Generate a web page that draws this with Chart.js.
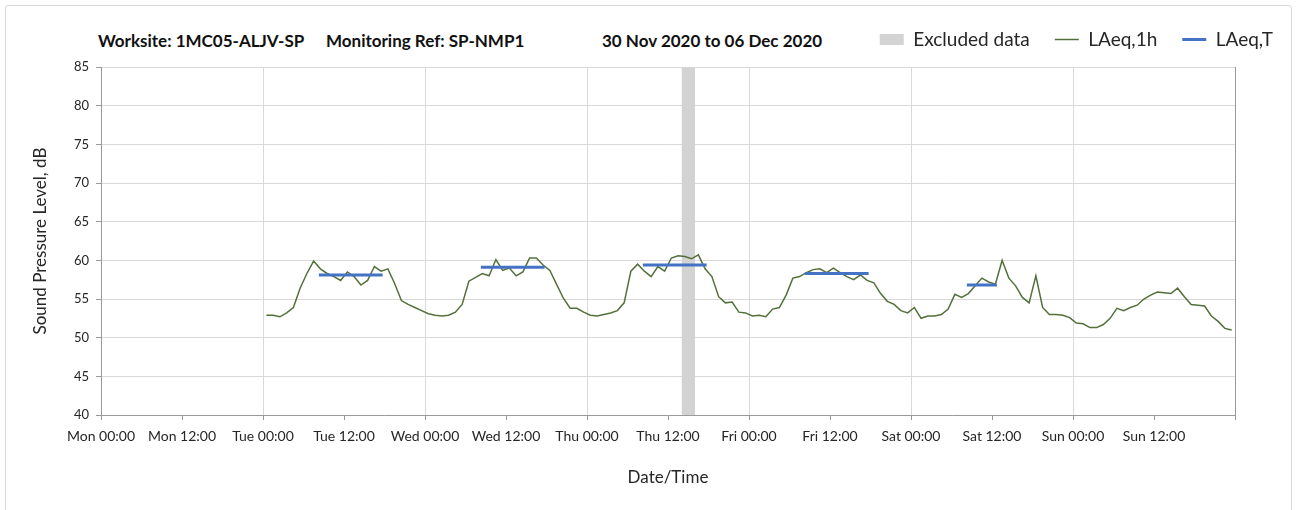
<!DOCTYPE html>
<html>
<head>
<meta charset="utf-8">
<script src="https://cdn.jsdelivr.net/npm/chart.js@4.4.1/dist/chart.umd.min.js"></script>
<style>
  html, body { margin: 0; padding: 0; background: #fff; }
  #wrap { position: relative; width: 1301px; height: 510px; overflow: hidden; }
  #frame { position: absolute; left: 5px; top: 5px; width: 1285px; height: 540px; border: 1px solid #d9d9d9; border-radius: 3px; }
  .ttl { position: absolute; top: 30px; line-height: 20px; font: bold 17px Lato, sans-serif; color: #111; white-space: pre; }
  canvas { position: absolute; left: 0; top: 0; }
</style>
</head>
<body>
<div id="wrap">
  <div id="frame"></div>
  <span class="ttl" style="left:98px">Worksite: 1MC05-ALJV-SP</span>
  <span class="ttl" style="left:326px">Monitoring Ref: SP-NMP1</span>
  <span class="ttl" style="left:602px">30 Nov 2020 to 06 Dec 2020</span>
  <canvas id="chart" width="1301" height="510"></canvas>
</div>
<script>
// ---------------- Data ----------------
const xTickLabels = ["Mon 00:00", "Mon 12:00", "Tue 00:00", "Tue 12:00", "Wed 00:00", "Wed 12:00",
  "Thu 00:00", "Thu 12:00", "Fri 00:00", "Fri 12:00", "Sat 00:00", "Sat 12:00", "Sun 00:00", "Sun 12:00"];

// LAeq,1h, one value per hour (plotted mid-hour), dB
const levelsTue = [52.9, 52.9, 52.7, 53.2, 53.9, 56.4, 58.3, 59.9, 58.9, 58.3, 57.9, 57.4,
                   58.5, 57.9, 56.8, 57.4, 59.2, 58.6, 58.9, 57.0, 54.8, 54.3, 53.9, 53.5];
const levelsWed = [53.1, 52.9, 52.8, 52.9, 53.3, 54.3, 57.3, 57.8, 58.3, 58.0, 60.1, 58.7,
                   59.0, 58.0, 58.5, 60.3, 60.3, 59.4, 58.7, 56.9, 55.1, 53.8, 53.8, 53.3];
const levelsThu = [52.9, 52.8, 53.0, 53.2, 53.5, 54.5, 58.6, 59.5, 58.6, 57.9, 59.2, 58.6,
                   60.3, 60.6, 60.5, 60.2, 60.7, 58.9, 57.9, 55.3, 54.5, 54.6, 53.3, 53.2];
const levelsFri = [52.8, 52.9, 52.7, 53.7, 53.9, 55.5, 57.7, 57.9, 58.4, 58.8, 58.9, 58.4,
                   59.0, 58.4, 57.9, 57.5, 58.1, 57.4, 57.1, 55.7, 54.7, 54.3, 53.5, 53.2];
const levelsSat = [53.9, 52.5, 52.8, 52.8, 53.0, 53.7, 55.6, 55.2, 55.7, 56.7, 57.7, 57.2,
                   56.9, 60.0, 57.7, 56.7, 55.2, 54.5, 58.0, 53.9, 53.0, 53.0, 52.9, 52.6];
const levelsSun = [51.9, 51.8, 51.3, 51.3, 51.7, 52.5, 53.8, 53.5, 53.9, 54.2, 55.0, 55.5,
                   55.9, 55.8, 55.7, 56.4, 55.3, 54.3, 54.2, 54.1, 52.8, 52.1, 51.2, 51.0];
const firstHour = 24.5; // Tue 00:30, hours after Mon 00:00

// LAeq,T per working period (hours after Mon 00:00)
const periodStart = [32.5, 56.5, 80.5, 104.5, 128.5];
const periodEnd   = [41.5, 65.5, 89.5, 113.5, 132.5];
const periodLevel = [58.1, 59.1, 59.4, 58.3, 56.8];

// excluded data window (Thu 14:00 - 16:00)
const excludedFrom = 86;
const excludedTo = 88;

// ---------------- Build ----------------
const hourly = [...levelsTue, ...levelsWed, ...levelsThu, ...levelsFri, ...levelsSat, ...levelsSun]
  .map((v, i) => ({ x: firstHour + i, y: v }));

const periods = [];
periodStart.forEach((s, i) => {
  periods.push({ x: s, y: periodLevel[i] }, { x: periodEnd[i], y: periodLevel[i] }, { x: periodEnd[i] + 0.1, y: null });
});

const GREEN = "#53703a";
const BLUE = "#4472c4";
const GRID = "#d9d9d9";
const AXIS = "#9a9a9a";
const TEXT = "#262626";

Chart.defaults.font.family = "Lato, sans-serif";
Chart.defaults.color = TEXT;

const legendHeight = {
  id: "legendHeight",
  beforeInit(chart) {
    const fit = chart.legend.fit;
    chart.legend.fit = function () {
      fit.bind(chart.legend)();
      this.height = 62;
    };
  }
};

new Chart(document.getElementById("chart"), {
  type: "line",
  data: {
    datasets: [
      {
        label: "Excluded data",
        data: [{ x: excludedFrom, y: 85 }, { x: excludedTo, y: 85 }],
        fill: "start",
        backgroundColor: "#d3d3d3",
        borderWidth: 0,
        pointRadius: 0,
        pointStyle: "rect",
        pointBackgroundColor: "#d3d3d3",
        pointBorderWidth: 0,
        order: 3
      },
      {
        label: "LAeq,1h",
        data: hourly,
        borderColor: GREEN,
        borderWidth: 1.5,
        pointRadius: 0,
        pointStyle: "line",
        pointBorderColor: GREEN,
        pointBorderWidth: 1.5,
        tension: 0,
        order: 2
      },
      {
        label: "LAeq,T",
        data: periods,
        borderColor: BLUE,
        borderWidth: 3,
        borderCapStyle: "square",
        pointRadius: 0,
        pointStyle: "line",
        pointBorderColor: BLUE,
        pointBorderWidth: 3,
        spanGaps: false,
        order: 1
      }
    ]
  },
  options: {
    responsive: false,
    animation: false,
    layout: { padding: { left: 30, right: 3, top: 5, bottom: 0 } },
    plugins: {
      tooltip: { enabled: false },
      legend: {
        position: "top",
        align: "end",
        labels: {
          usePointStyle: true,
          pointStyleWidth: 24,
          boxHeight: 11,
          padding: 25,
          color: TEXT,
          font: { size: 19 },
          sort: (a, b) => a.datasetIndex - b.datasetIndex
        }
      }
    },
    scales: {
      x: {
        type: "linear",
        min: 0,
        max: 168,
        afterFit: s => { s.height = 95; },
        ticks: {
          stepSize: 12,
          autoSkip: false,
          maxRotation: 0,
          padding: 8,
          font: { size: 14 },
          color: TEXT,
          callback: (v, i) => xTickLabels[i] ?? ""
        },
        grid: {
          color: c => {
            if (!c.tick || c.tick.value % 24 !== 0) return "rgba(0,0,0,0)";
            return c.tick.value === 168 ? AXIS : GRID;
          },
          tickColor: AXIS,
          tickLength: 5
        },
        border: { color: AXIS },
        title: {
          display: true,
          text: "Date/Time",
          font: { size: 17 },
          color: TEXT,
          padding: { top: 0, bottom: 22 }
        }
      },
      y: {
        min: 40,
        max: 85,
        afterFit: s => { s.width = 71; },
        ticks: { stepSize: 5, padding: 7, font: { size: 13 }, color: TEXT },
        grid: { color: GRID, tickColor: AXIS, tickLength: 5 },
        border: { color: AXIS },
        title: {
          display: true,
          text: "Sound Pressure Level, dB",
          font: { size: 17 },
          color: TEXT,
          padding: { top: 0, bottom: 0 }
        }
      },
      // empty right-hand axis, keeps the plot narrower than the legend row
      yRight: {
        position: "right",
        afterFit: s => { s.width = 63; },
        ticks: { display: false },
        grid: { display: false },
        border: { display: false }
      }
    }
  },
  plugins: [legendHeight]
});
</script>
</body>
</html>
